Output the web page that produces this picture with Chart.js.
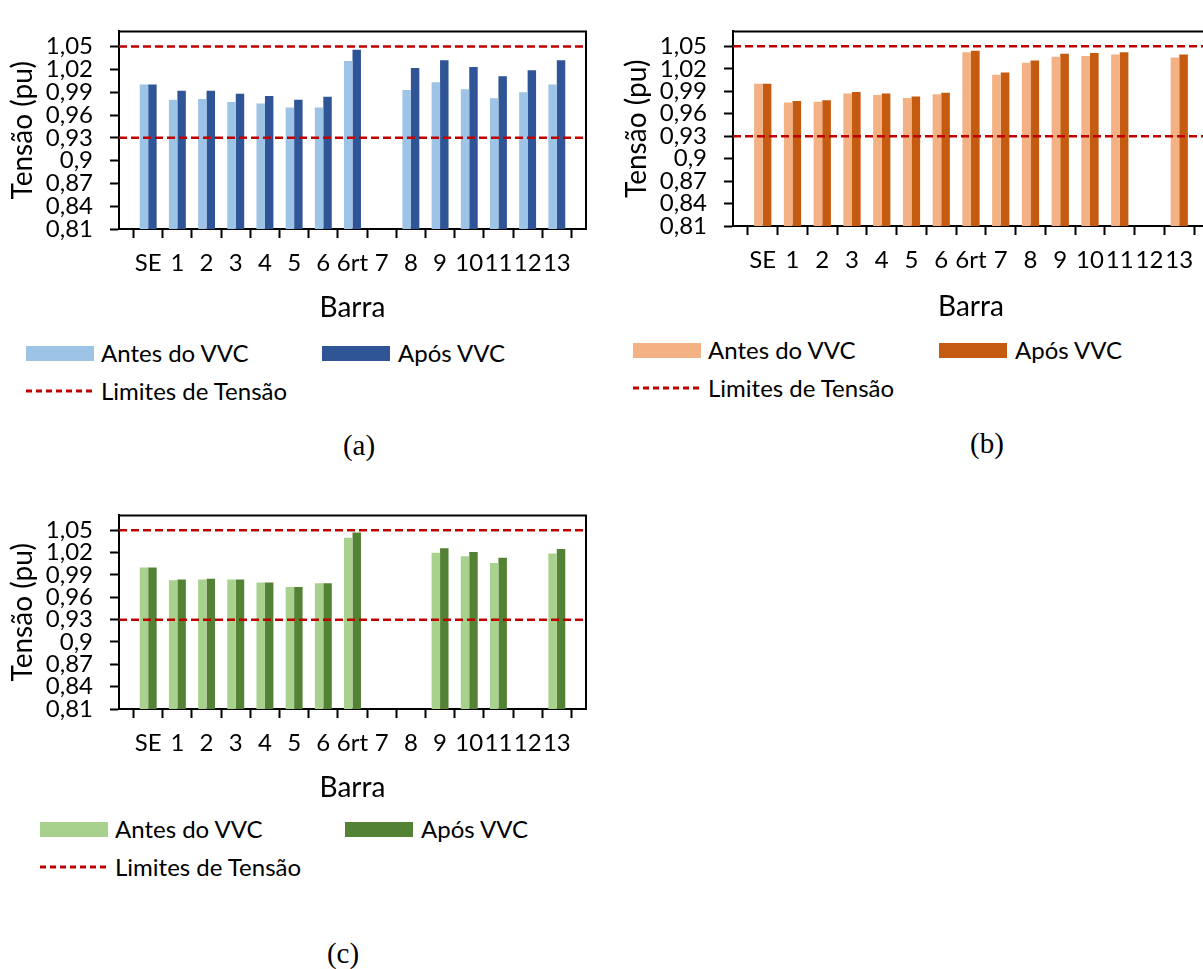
<!DOCTYPE html>
<html>
<head>
<meta charset="utf-8">
<script src="https://cdn.jsdelivr.net/npm/chart.js@4"></script>
<style>
  html, body { margin: 0; padding: 0; width: 1203px; height: 969px; overflow: hidden; background: #fff; }
  body { position: relative; font-family: Lato, sans-serif; color: #000; }
  canvas { position: absolute; }
  .leg { position: absolute; font-size: 24px; line-height: 26px; white-space: nowrap; }
  .sw { position: absolute; height: 15px; width: 68px; }
  .cap { position: absolute; font-family: "Liberation Serif", "Times New Roman", serif; font-size: 29px; transform: translate(-50%, -50%); }
</style>
</head>
<body>

<canvas id="chartA" width="600" height="325" style="left:0;top:0"></canvas>
<canvas id="chartB" width="610" height="324" style="left:614px;top:0"></canvas>
<canvas id="chartC" width="600" height="321" style="left:0;top:484px"></canvas>

<div id="legends"></div>

<div class="cap" style="left:359px;top:445px">(a)</div>
<div class="cap" style="left:987px;top:443px">(b)</div>
<div class="cap" style="left:343px;top:953px">(c)</div>

<script>
const barras = ['SE', '1', '2', '3', '4', '5', '6', '6rt', '7', '8', '9', '10', '11', '12', '13'];
const yTicks = [0.81, 0.84, 0.87, 0.9, 0.93, 0.96, 0.99, 1.02, 1.05];
const limiteSup = 1.05;
const limiteInf = 0.93;

// (a)
const antesA = [1.000, 0.980, 0.981, 0.977, 0.975, 0.970, 0.970, 1.031, null, 0.993, 1.003, 0.994, 0.982, 0.990, 1.000];
const aposA  = [1.000, 0.992, 0.992, 0.988, 0.985, 0.980, 0.984, 1.046, null, 1.022, 1.032, 1.023, 1.011, 1.019, 1.032];
// (b)
const antesB = [1.000, 0.975, 0.976, 0.987, 0.985, 0.981, 0.986, 1.042, 1.012, 1.028, 1.036, 1.037, 1.039, null, 1.035];
const aposB  = [1.000, 0.977, 0.978, 0.989, 0.987, 0.983, 0.988, 1.044, 1.015, 1.031, 1.040, 1.041, 1.042, null, 1.039];
// (c)
const antesC = [1.000, 0.983, 0.984, 0.984, 0.980, 0.974, 0.979, 1.040, null, null, 1.020, 1.015, 1.006, null, 1.019];
const aposC  = [1.000, 0.984, 0.985, 0.984, 0.980, 0.974, 0.979, 1.047, null, null, 1.026, 1.021, 1.013, null, 1.025];

Chart.defaults.font.family = 'Lato, sans-serif';
Chart.defaults.color = '#000';

// moldura da área do gráfico (topo e direita)
const frame = {
    id: 'frame',
    afterDraw(chart) {
        const { ctx, chartArea: a } = chart;
        ctx.save();
        ctx.strokeStyle = '#000';
        ctx.lineWidth = 2;
        ctx.beginPath();
        ctx.moveTo(a.left, a.top);
        ctx.lineTo(a.right, a.top);
        ctx.lineTo(a.right, a.bottom);
        ctx.stroke();
        ctx.restore();
    }
};

function makeChart(id, antes, apos, corAntes, corApos, padRight, xHeight) {
    // uma categoria vazia em cada ponta, como no Excel
    const labels = ['', ...barras, ''];
    const pad = arr => [null, ...arr, null];

    return new Chart(document.getElementById(id), {
        type: 'bar',
        data: {
            labels: labels,
            datasets: [
                {
                    type: 'line', label: 'Limites de Tensão',
                    data: labels.map(() => limiteSup),
                    borderColor: '#C00000', borderWidth: 2.5, borderDash: [8, 4],
                    pointRadius: 0, order: 0
                },
                {
                    type: 'line', label: 'Limites de Tensão',
                    data: labels.map(() => limiteInf),
                    borderColor: '#C00000', borderWidth: 2.5, borderDash: [8, 4],
                    pointRadius: 0, order: 0
                },
                {
                    label: 'Antes do VVC', data: pad(antes),
                    backgroundColor: corAntes, order: 1
                },
                {
                    label: 'Após VVC', data: pad(apos),
                    backgroundColor: corApos, order: 1
                }
            ]
        },
        options: {
            responsive: false,
            animation: false,
            layout: { padding: { top: 11, right: padRight, left: 0, bottom: 0 } },
            datasets: { bar: { barPercentage: 1, categoryPercentage: 0.58 } },
            plugins: { legend: { display: false }, tooltip: { enabled: false } },
            scales: {
                x: {
                    offset: false,
                    afterFit: s => { s.height = xHeight; },
                    border: { display: true, color: '#000', width: 2 },
                    grid: { drawOnChartArea: false, drawTicks: true, tickLength: 9, tickWidth: 2, color: '#000' },
                    ticks: { autoSkip: false, maxRotation: 0, padding: 11, font: { size: 24 } },
                    title: { display: true, text: 'Barra', font: { size: 28 }, padding: { top: 0, bottom: 0 } }
                },
                y: {
                    min: 0.81,
                    max: 1.07,
                    afterFit: s => { s.width = 119; },
                    afterBuildTicks: s => { s.ticks = yTicks.map(v => ({ value: v })); },
                    border: { display: true, color: '#000', width: 2 },
                    grid: { drawOnChartArea: false, drawTicks: true, tickLength: 9, tickWidth: 2, color: '#000' },
                    ticks: {
                        autoSkip: false, padding: 17, font: { size: 24 },
                        callback: v => String(v).replace('.', ',')
                    },
                    title: { display: true, text: 'Tensão (pu)', font: { size: 28 }, padding: { top: 6, bottom: 0 } }
                }
            }
        },
        plugins: [frame]
    });
}

makeChart('chartA', antesA, aposA, '#9DC3E6', '#2F5597', 14, 96);
makeChart('chartB', antesB, aposB, '#F4B183', '#C55A11', 15, 98);
makeChart('chartC', antesC, aposC, '#A9D18E', '#548235', 14, 96);

// legendas
function legenda(x, y, xApos, corAntes, corApos) {
    const box = document.getElementById('legends');
    const dy = 38;
    box.insertAdjacentHTML('beforeend', `
      <div class="sw" style="left:${x}px;top:${y - 7}px;background:${corAntes}"></div>
      <div class="leg" style="left:${x + 75}px;top:${y - 13}px">Antes do VVC</div>
      <div class="sw" style="left:${xApos}px;top:${y - 7}px;background:${corApos}"></div>
      <div class="leg" style="left:${xApos + 76}px;top:${y - 13}px">Após VVC</div>
      <svg style="position:absolute;left:${x}px;top:${y + dy - 3}px" width="68" height="6">
        <line x1="0" y1="3" x2="68" y2="3" stroke="#C00000" stroke-width="3" stroke-dasharray="6 4"/>
      </svg>
      <div class="leg" style="left:${x + 75}px;top:${y + dy - 13}px">Limites de Tensão</div>
    `);
}

legenda(26, 353, 322, '#9DC3E6', '#2F5597');
legenda(633, 350, 939, '#F4B183', '#C55A11');
legenda(40, 829, 345, '#A9D18E', '#548235');
</script>
</body>
</html>
